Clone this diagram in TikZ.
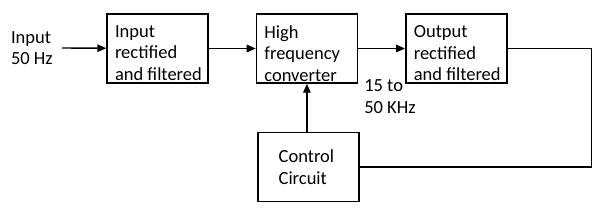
\documentclass[tikz,border=0pt]{standalone}
\usepackage{fontspec}
\setmainfont{Carlito}
\usepackage{tikz}
\usetikzlibrary{arrows.meta,positioning}
\newcommand{\boxtxt}[1]{\parbox[c][46bp][t]{92bp}{\raggedright\leftskip=3.5bp #1}}

\begin{document}
\begin{tikzpicture}[x=1bp,y=1bp,
  node distance=47bp and 47bp,
  font=\fontsize{18.5bp}{21.5bp}\selectfont,
  blk/.style={draw,line width=1.4bp,minimum width=101bp,minimum height=69bp,inner sep=0pt},
  lbl/.style={align=left,inner sep=0pt},
  wire/.style={line width=1.4bp},
  >={Triangle[length=9bp,width=7.5bp]}]
  \useasboundingbox (0,0) rectangle (600,214);
  \node[blk] (rin) at (157.5,165.5) {\boxtxt{Input\\rectified\\and filtered}};
  \node[blk,right=of rin] (hfc) {\boxtxt{High\\frequency\\converter}};
  \node[blk,right=of hfc] (rout) {\boxtxt{Output\\rectified\\and filtered}};
  \node[blk,below=48bp of hfc,xshift=1.5bp] (ctl) {};
  \node[lbl] at ([xshift=-2bp]ctl) {Control\\Circuit};
  \node[lbl,anchor=east] (inp) at (53,166) {Input\\50 Hz};
  \node[lbl,anchor=north west] (freq) at ([xshift=6bp,yshift=4bp]hfc.south east) {15 to\\50 KHz};
  \draw[->,wire] ([xshift=9bp]inp.east) -- (rin);
  \draw[->,wire] (rin) -- (hfc);
  \draw[->,wire] (hfc) -- (rout);
  \draw[->,wire] ([xshift=-1.5bp]ctl.north) -- ([xshift=-1.5bp]ctl.north |- hfc.south);
  \draw[wire] (rout.east) -- ++(84,0) |- (ctl.east);
\end{tikzpicture}
\end{document}
